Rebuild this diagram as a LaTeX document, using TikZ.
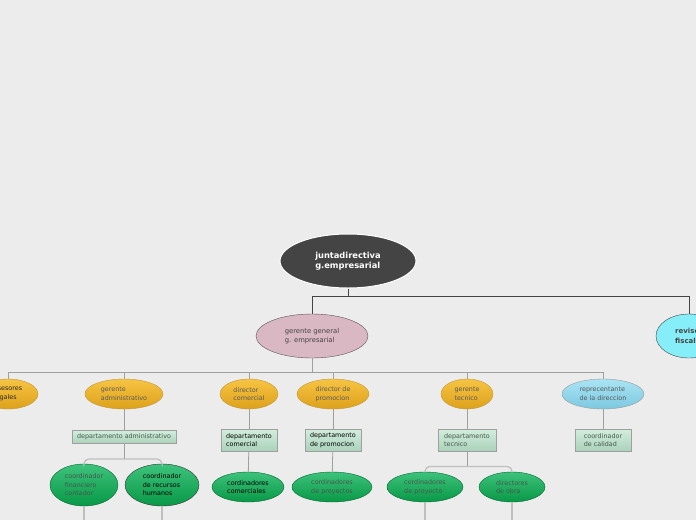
\documentclass[tikz,border=0pt]{standalone}
\usepackage{fontspec}
\setmainfont{DejaVu Sans}
\usepackage{tikz}
\usetikzlibrary{shapes.geometric,positioning}
\definecolor{bgc}{HTML}{ECECEC}
\definecolor{darkc}{HTML}{444444}
\definecolor{pinkc}{HTML}{D9B7C3}
\definecolor{orgtop}{HTML}{F6C443}
\definecolor{orgbot}{HTML}{DDA11B}
\definecolor{grntop}{HTML}{3EC27C}
\definecolor{grnbot}{HTML}{079846}
\definecolor{depttop}{HTML}{D3EDDD}
\definecolor{deptbot}{HTML}{AAD2BA}
\definecolor{blutop}{HTML}{A9E4F4}
\definecolor{blubot}{HTML}{7CC8E0}
\definecolor{cyanc}{HTML}{86EEF8}
\definecolor{txtg}{HTML}{46574C}
\tikzset{ell/.style={ellipse,draw,inner sep=0pt,align=left,font=\fontsize{6.4}{8.5}\selectfont},
         dk/.style={ell,fill=darkc,draw=white,line width=1pt,text=white,font=\fontsize{8.3}{10.5}\selectfont\bfseries},
         pk/.style={ell,fill=pinkc,draw=darkc!90,text=darkc,font=\fontsize{6.8}{9}\selectfont},
         og/.style={ell,top color=orgtop,bottom color=orgbot,draw=orgbot!70!gray,text=black!65},
         gr/.style={ell,top color=grntop,bottom color=grnbot,draw=grnbot!70!black,text=txtg},
         bl/.style={ell,top color=blutop,bottom color=blubot,draw=gray!80,text=black!65},
         cy/.style={ell,fill=cyanc,draw=darkc,text=darkc,font=\fontsize{7}{9.5}\selectfont\bfseries},
         dept/.style={rectangle,draw=gray!75,line width=0.8pt,top color=depttop,bottom color=deptbot,inner sep=0pt,align=left,text=txtg,font=\fontsize{6.4}{8.5}\selectfont},
         trunk/.style={draw=darkc,line width=0.8pt},
         bus/.style={draw=gray!75,line width=0.8pt},
         fork/.style={draw=gray!50,line width=1.3pt,rounded corners=5pt}}

\begin{document}
\begin{tikzpicture}[x=1pt,y=-1pt]
        \fill[bgc] (0,0) rectangle (696,520);
        \useasboundingbox (0,0) rectangle (696,520);
        \clip (0,0) rectangle (696,520);

        \node[dk,minimum width=136,minimum height=54] (jd) at (348,261) {juntadirectiva\\g.empresarial};
        \node[pk,minimum width=112,minimum height=44] (gg) at (312,336) {gerente general\\g. empresarial};
        \node[cy,minimum width=66,minimum height=44] (rf) at (689,336) {revisor\\fiscal};

        \node[og,minimum width=60,minimum height=30,text=black!85] (al) at (8,394) {asesores\\legales};
        \node[og,minimum width=78,minimum height=30] (ga) at (124,394) {gerente\\administrativo};
        \node[og,minimum width=58,minimum height=30] (dco) at (249,394) {director\\comercial};
        \node[og,minimum width=72,minimum height=30] (dpr) at (333,394) {director de\\promocion};
        \node[og,minimum width=52,minimum height=30] (gt) at (467,394) {gerente\\tecnico};
        \node[bl,minimum width=82,minimum height=30] (rd) at (603,394) {reprecentante\\de la direccion};

        \node[dept,minimum width=104,minimum height=13] (dadm) at (124,437) {departamento administrativo};
        \node[dept,minimum width=56,minimum height=22,text=black] (dcom) at (249,440) {departamento\\comercial};
        \node[dept,minimum width=56,minimum height=22,text=black] (dprom) at (333,440) {departamento\\de promocion};
        \node[dept,minimum width=58,minimum height=22] (dtec) at (467,440) {departamento\\tecnico};
        \node[dept,minimum width=56,minimum height=22] (ccal) at (603,440) {coordinador\\de calidad};

        \node[gr,minimum width=68,minimum height=42] (cfc) at (84,485) {coordinador\\financiero\\contador};
        \node[gr,minimum width=74,minimum height=42,text=black,draw=black!80] (crh) at (162,485) {coordinador\\de recursos\\humanos};
        \node[gr,minimum width=72,minimum height=30,text=black] (ccom) at (248,487) {cordinadores\\comerciales};
        \node[gr,minimum width=80,minimum height=30] (cpys) at (332,487) {cordinadores\\de proyectos};
        \node[gr,minimum width=76,minimum height=30] (cpy) at (425,487) {cordinadores\\de proyecto};
        \node[gr,minimum width=66,minimum height=30] (dob) at (512,487) {directores\\de obra};

        \coordinate (e1) at (84,520);
        \coordinate (e2) at (162,520);
        \coordinate (e3) at (425,520);
        \coordinate (e4) at (512,520);

        % top level
        \draw [trunk] (jd.south) -- ++(0,8) -| (gg.north);
        \draw [trunk] (jd.south) -- ++(0,8) -| (rf.north);

        % second level
        \draw [bus] (gg.south) -- ++(0,14) -| (al.north);
        \draw [bus] (gg.south) -- ++(0,14) -| (ga.north);
        \draw [bus] (gg.south) -- ++(0,14) -| (dco.north);
        \draw [bus] (gg.south) -- ++(0,14) -| (dpr.north);
        \draw [bus] (gg.south) -- ++(0,14) -| (gt.north);
        \draw [bus] (gg.south) -- ++(0,14) -| (rd.north);

        \draw [bus] (ga) -- (dadm);
        \draw [bus] (dco) -- (dcom);
        \draw [bus] (dpr) -- (dprom);
        \draw [bus] (gt) -- (dtec);
        \draw [bus] (rd) -- (ccal);
        \draw [bus] (dcom) -- (ccom);
        \draw [bus] (dprom) -- (cpys);

        % forks
        \draw [bus] (dadm.south) -- ++(0,15);
        \draw [fork] (dadm.south) ++(0,15) -| (cfc.north);
        \draw [fork] (dadm.south) ++(0,15) -| (crh.north);
        \draw [bus] (dtec.south) -- ++(0,15);
        \draw [fork] (dtec.south) ++(0,15) -| (cpy.north);
        \draw [fork] (dtec.south) ++(0,15) -| (dob.north);

        \draw [fork] (cfc) -- (e1);
        \draw [fork] (crh) -- (e2);
        \draw [fork] (cpy) -- (e3);
        \draw [fork] (dob) -- (e4);
    \end{tikzpicture}
\end{document}
